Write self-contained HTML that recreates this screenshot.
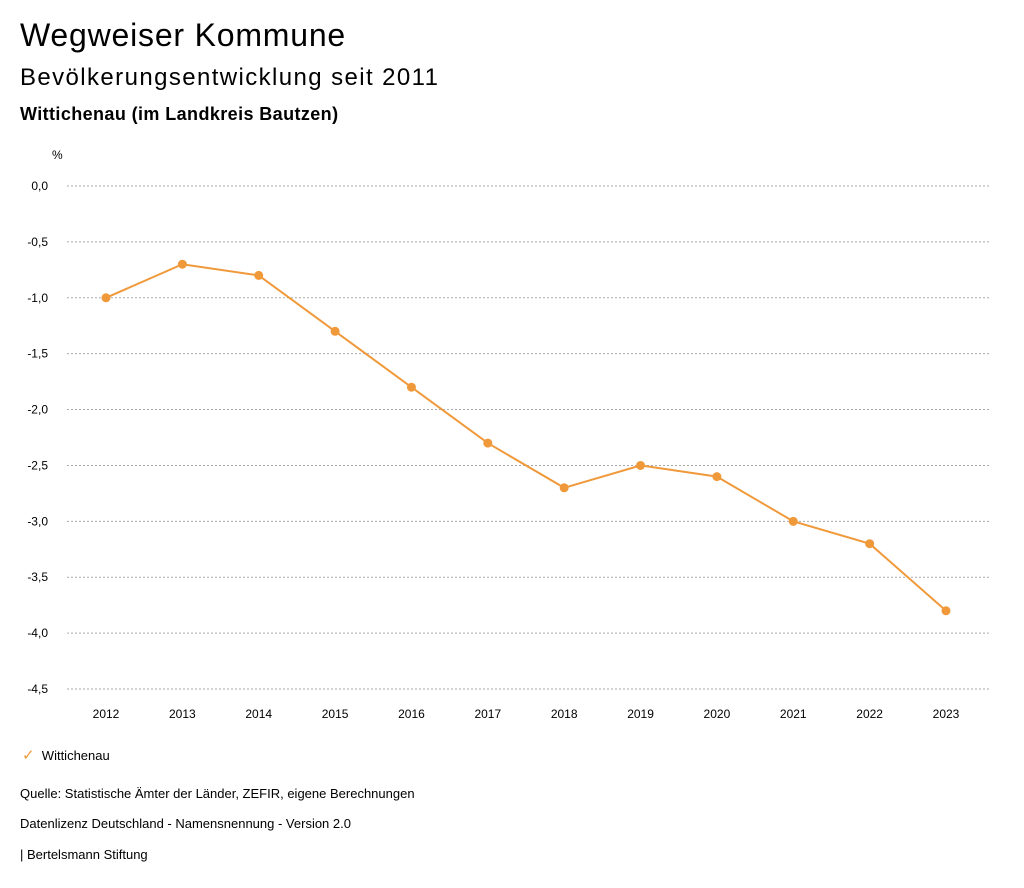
<!DOCTYPE html>
<html><head><meta charset="utf-8"><style>
body{margin:0;width:1024px;height:888px;background:#fff;font-family:"Liberation Sans",sans-serif;color:#000;position:relative;overflow:hidden}
.t{position:absolute;left:20px;white-space:nowrap}
</style></head><body>
<div class="t" style="top:17px;font-size:32px;letter-spacing:0.8px">Wegweiser Kommune</div>
<div class="t" style="top:64px;font-size:24px;letter-spacing:1.4px">Bevölkerungsentwicklung seit 2011</div>
<div class="t" style="top:104px;font-size:18px;font-weight:bold;letter-spacing:0.4px">Wittichenau (im Landkreis Bautzen)</div>
<svg id="chart" width="1024" height="740" style="position:absolute;left:0;top:0" font-family="Liberation Sans, sans-serif"></svg>
<div class="t" style="top:746px;left:22px;font-size:13px"><span style="color:#f0993a;font-size:15px">✓</span>&nbsp;&nbsp;Wittichenau</div>
<div class="t" style="top:786px;font-size:13px">Quelle: Statistische Ämter der Länder, ZEFIR, eigene Berechnungen</div>
<div class="t" style="top:816px;font-size:13px">Datenlizenz Deutschland - Namensnennung - Version 2.0</div>
<div class="t" style="top:847px;font-size:13px">| Bertelsmann Stiftung</div>
<script>
const years=["2012","2013","2014","2015","2016","2017","2018","2019","2020","2021","2022","2023"];
const values=[-1.0,-0.7,-0.8,-1.3,-1.8,-2.3,-2.7,-2.5,-2.6,-3.0,-3.2,-3.8];
const yTicks=[0,-0.5,-1,-1.5,-2,-2.5,-3,-3.5,-4,-4.5];
const NS="http://www.w3.org/2000/svg";
const svg=document.getElementById('chart');
const y=v=>186+(-v)*(689-186)/4.5;
const x=i=>106+i*(946-106)/(years.length-1);
function mk(t,a){const e=document.createElementNS(NS,t);for(const k in a)e.setAttribute(k,a[k]);svg.appendChild(e);return e;}
let u=mk('text',{x:52,y:159,'font-size':12});u.textContent='%';


yTicks.forEach(v=>{
 const g=mk('line',{x1:67,x2:990,y1:y(v),y2:y(v),stroke:'#aaa','stroke-dasharray':'2,2'});
 
 
 const t=mk('text',{x:48,y:y(v)+4,'font-size':12,'text-anchor':'end'});
 t.textContent=v.toFixed(1).replace('.',',');
 
 
});
years.forEach((yr,i)=>{
 const t=mk('text',{x:x(i),y:718,'font-size':12,'text-anchor':'middle'});
 t.textContent=yr;
 
 
});
const p=mk('polyline',{points:values.map((v,i)=>x(i)+','+y(v)).join(' '),fill:'none',stroke:'#f0993a','stroke-width':2});


values.forEach((v,i)=>{
 const c=mk('circle',{cx:x(i),cy:y(v),r:4.5,fill:'#f0993a'});
 
 
});
</script>
</body></html>
